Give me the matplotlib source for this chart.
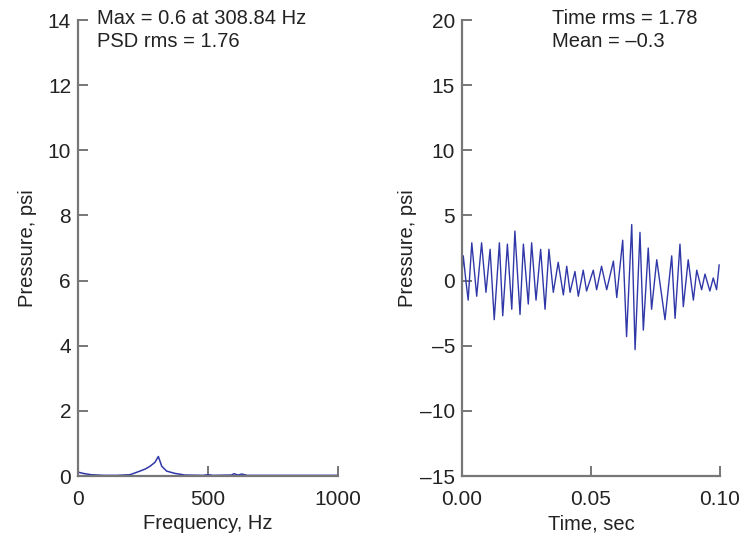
import matplotlib
matplotlib.use("Agg")
import matplotlib.pyplot as plt
from matplotlib.ticker import FuncFormatter

plt.rcParams['font.family'] = ['Liberation Sans', 'DejaVu Sans']

# PSD (left panel)
freq_hz = [0, 20, 50, 100, 150, 200, 238, 260, 277, 296, 309, 322, 341, 373, 411,
           480, 500, 520, 590, 600, 615, 630, 650, 800, 1000]
psd_psi = [0.12, 0.08, 0.04, 0.02, 0.02, 0.04, 0.15, 0.22, 0.30, 0.42, 0.60, 0.30, 0.15, 0.08, 0.03,
           0.02, 0.04, 0.02, 0.03, 0.07, 0.03, 0.06, 0.02, 0.02, 0.02]

# time history (right panel), extrema
time_ms = [0.0, 0.5, 1.5, 2.4, 3.8, 5.7, 7.6, 9.3, 10.9, 12.5, 14.5, 15.8, 17.6, 19.3,
           20.5, 22.5, 23.8, 25.7, 27.0, 28.7, 30.5, 32.2, 33.7, 35.4, 37.3, 39.3, 40.6,
           41.9, 43.8, 45.1, 47.0, 48.3, 50.9, 52.2, 54.1, 56.1, 58.7, 60.0, 62.3, 63.8,
           65.8, 67.1, 69.0, 70.3, 72.2, 73.5, 75.5, 78.7, 81.3, 82.6, 84.5, 85.8, 87.7,
           89.7, 91.0, 92.9, 94.2, 96.1, 97.4, 98.7, 99.7]
press_psi = [0.5, 1.9, 0.0, -1.5, 2.9, -1.2, 2.9, -0.9, 2.4, -3.0, 2.9, -2.7, 2.8, -2.2,
             3.8, -2.6, 2.8, -1.8, 2.9, -1.5, 2.4, -2.2, 2.4, -0.9, 1.4, -1.1, 1.1,
             -0.9, 0.7, -1.2, 0.8, -0.8, 0.8, -0.7, 1.1, -0.7, 1.5, -1.3, 3.1, -4.3,
             4.3, -5.3, 3.7, -3.8, 2.5, -2.2, 1.6, -3.0, 1.9, -2.9, 2.8, -2.0, 1.6,
             -1.5, 0.8, -0.7, 0.5, -0.8, 0.2, -0.7, 1.2]

LINE = "#3038a8"
SPINE = "#777777"
TXT = "#222222"


def dash_fmt(fmt):
    return FuncFormatter(lambda v, p: (fmt % v).replace("-", "\u2013"))


def style(ax):
    for s in ("top", "right"):
        ax.spines[s].set_visible(False)
    for s in ("left", "bottom"):
        ax.spines[s].set_color(SPINE)
        ax.spines[s].set_linewidth(1.6)
    ax.tick_params(direction="in", length=7, width=1.4, color=SPINE,
                   labelsize=15, labelcolor=TXT)
    ax.tick_params(axis="x", pad=10)
    ax.tick_params(axis="y", pad=5)


fig = plt.figure(figsize=(7.4, 5.4), dpi=100)
ax1 = fig.add_axes([0.1054, 0.1185, 0.3514, 0.8444])
ax2 = fig.add_axes([0.6243, 0.1185, 0.3486, 0.8444])

ax1.plot(freq_hz, psd_psi, color=LINE, lw=1.1)
ax1.set_xlim(0, 1000)
ax1.set_ylim(0, 14)
ax1.set_xticks([0, 500, 1000])
ax1.set_yticks(range(0, 15, 2))
ax1.set_xlabel("Frequency, Hz", fontsize=14.5, color=TXT, labelpad=4)
ax1.set_ylabel("Pressure, psi", fontsize=14.5, color=TXT, labelpad=8)
ax1.text(0.075, 1.025, "Max = 0.6 at 308.84 Hz\nPSD rms = 1.76", transform=ax1.transAxes,
         va="top", ha="left", fontsize=14.5, linespacing=1.3, color=TXT)
style(ax1)

ax2.plot([t / 1000 for t in time_ms], press_psi, color=LINE, lw=1.0)
ax2.set_xlim(0, 0.1)
ax2.set_ylim(-15, 20)
ax2.set_xticks([0, 0.05, 0.1])
ax2.set_yticks(range(-15, 21, 5))
ax2.xaxis.set_major_formatter(dash_fmt("%.2f"))
ax2.yaxis.set_major_formatter(dash_fmt("%d"))
ax2.set_xlabel("Time, sec", fontsize=14.5, color=TXT, labelpad=4)
ax2.set_ylabel("Pressure, psi", fontsize=14.5, color=TXT, labelpad=2)
ax2.text(0.35, 1.025, "Time rms = 1.78\nMean = \u20130.3", transform=ax2.transAxes,
         va="top", ha="left", fontsize=14.5, linespacing=1.3, color=TXT)
style(ax2)

fig.savefig("out.png", dpi=100)
